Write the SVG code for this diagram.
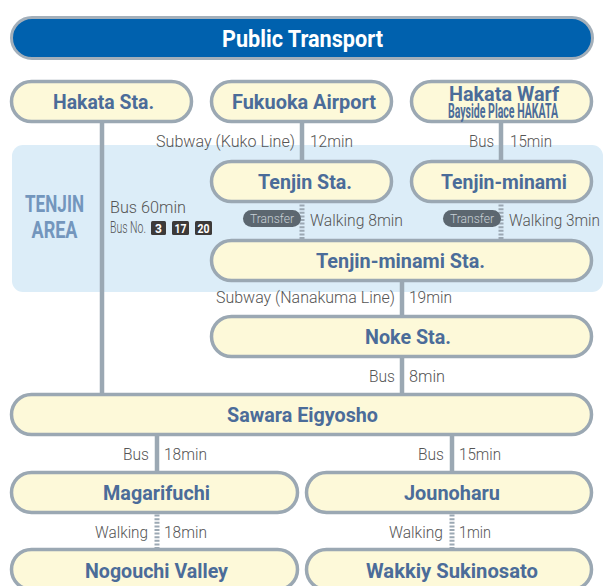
<svg xmlns="http://www.w3.org/2000/svg" width="609" height="586" viewBox="0 0 609 586">
<style>
.node rect{fill:#fdf9d9;stroke:#9ba8b3;stroke-width:3.5}
.nt{font-family:Roboto,"Liberation Sans",sans-serif;font-weight:bold;fill:#4b6c99;text-anchor:middle;font-size:21px}
.lbl{font-family:Roboto,"Liberation Sans",sans-serif;font-weight:300;fill:#555;font-size:17px}
.r{text-anchor:end}
.ln{stroke:#9ba8b3;stroke-width:4.5;fill:none}
.wk{stroke:#9ba8b3;stroke-width:5;stroke-dasharray:2 1.6;fill:none}
.tp{fill:#5c6770}
.tpt{font-family:Roboto,"Liberation Sans",sans-serif;font-weight:300;font-size:12px;fill:#c9d0d6;text-anchor:middle}
.bn rect{fill:#3d3a39}
.bn text{font-family:Roboto,"Liberation Sans",sans-serif;font-weight:bold;font-size:12px;fill:#fff;text-anchor:middle}
</style>
<rect x="12" y="145" width="591" height="147" rx="11" fill="#dcedf8"/>
<g id="header">
<rect x="11.5" y="17.5" width="581" height="41" rx="20.5" fill="#0061ae" stroke="#a3afba" stroke-width="3"/>
<text x="302.5" y="47" font-family="Roboto,Liberation Sans,sans-serif" font-weight="bold" font-size="24" fill="#fff" text-anchor="middle" textLength="161" lengthAdjust="spacingAndGlyphs">Public Transport</text>
</g>
<g id="tenjin-area-label" font-family="Roboto,Liberation Sans,sans-serif" font-weight="bold" font-size="23" fill="#7396bd" text-anchor="middle">
<text x="54.5" y="212" textLength="59" lengthAdjust="spacingAndGlyphs">TENJIN</text>
<text x="54.5" y="238" textLength="46" lengthAdjust="spacingAndGlyphs">AREA</text>
</g>
<g id="connectors">
<line class="ln" x1="102" y1="121" x2="102" y2="396"/>
<line class="ln" x1="302" y1="121" x2="302" y2="162"/>
<line class="ln" x1="501" y1="121" x2="501" y2="162"/>
<line class="wk" x1="302" y1="201" x2="302" y2="241"/>
<line class="wk" x1="501" y1="201" x2="501" y2="241"/>
<line class="ln" x1="402" y1="279" x2="402" y2="317"/>
<line class="ln" x1="402" y1="355" x2="402" y2="395"/>
<line class="ln" x1="157" y1="433" x2="157" y2="474"/>
<line class="ln" x1="452" y1="433" x2="452" y2="474"/>
<line class="wk" x1="157" y1="511" x2="157" y2="550"/>
<line class="wk" x1="452" y1="511" x2="452" y2="550"/>
<text class="lbl r" x="295" y="147" textLength="139" lengthAdjust="spacingAndGlyphs">Subway (Kuko Line)</text>
<text class="lbl" x="310" y="147" textLength="43" lengthAdjust="spacingAndGlyphs">12min</text>
<text class="lbl r" x="494" y="147" textLength="25" lengthAdjust="spacingAndGlyphs">Bus</text>
<text class="lbl" x="510" y="147" textLength="42" lengthAdjust="spacingAndGlyphs">15min</text>
<text class="lbl" x="110" y="213" textLength="76" lengthAdjust="spacingAndGlyphs">Bus 60min</text>
<text class="lbl" x="110" y="233" font-size="11" textLength="36" lengthAdjust="spacingAndGlyphs">Bus No.</text>
<g class="bn"><rect x="151" y="221" width="15" height="14" rx="1.5"/><text x="158.5" y="232.5">3</text></g>
<g class="bn"><rect x="172" y="221" width="17" height="14" rx="1.5"/><text x="180.5" y="232.5" textLength="12" lengthAdjust="spacingAndGlyphs">17</text></g>
<g class="bn"><rect x="195" y="221" width="17" height="14" rx="1.5"/><text x="203.5" y="232.5" textLength="12" lengthAdjust="spacingAndGlyphs">20</text></g>
<rect class="tp" x="243" y="210" width="58" height="17" rx="8.5"/>
<text class="tpt" x="272" y="222.5" textLength="44" lengthAdjust="spacingAndGlyphs">Transfer</text>
<text class="lbl" x="310" y="226" textLength="93" lengthAdjust="spacingAndGlyphs">Walking 8min</text>
<rect class="tp" x="443" y="210" width="58" height="17" rx="8.5"/>
<text class="tpt" x="472" y="222.5" textLength="44" lengthAdjust="spacingAndGlyphs">Transfer</text>
<text class="lbl" x="509" y="226" textLength="91" lengthAdjust="spacingAndGlyphs">Walking 3min</text>
<text class="lbl r" x="395" y="303" textLength="179" lengthAdjust="spacingAndGlyphs">Subway (Nanakuma Line)</text>
<text class="lbl" x="409" y="303" textLength="43" lengthAdjust="spacingAndGlyphs">19min</text>
<text class="lbl r" x="395" y="382" textLength="26" lengthAdjust="spacingAndGlyphs">Bus</text>
<text class="lbl" x="409" y="382" textLength="36" lengthAdjust="spacingAndGlyphs">8min</text>
<text class="lbl r" x="149" y="460" textLength="26" lengthAdjust="spacingAndGlyphs">Bus</text>
<text class="lbl" x="164" y="460" textLength="43" lengthAdjust="spacingAndGlyphs">18min</text>
<text class="lbl r" x="444" y="460" textLength="26" lengthAdjust="spacingAndGlyphs">Bus</text>
<text class="lbl" x="459" y="460" textLength="42" lengthAdjust="spacingAndGlyphs">15min</text>
<text class="lbl r" x="148" y="538" textLength="53" lengthAdjust="spacingAndGlyphs">Walking</text>
<text class="lbl" x="164" y="538" textLength="43" lengthAdjust="spacingAndGlyphs">18min</text>
<text class="lbl r" x="443" y="538" textLength="54" lengthAdjust="spacingAndGlyphs">Walking</text>
<text class="lbl" x="459" y="538" textLength="32" lengthAdjust="spacingAndGlyphs">1min</text>
</g>
<g id="hakata-sta" class="node"><rect x="11.5" y="81.5" width="180" height="40" rx="20"/><text class="nt" x="103.5" y="109" textLength="101" lengthAdjust="spacingAndGlyphs">Hakata Sta.</text></g>
<g id="fukuoka-airport" class="node"><rect x="211.5" y="81.5" width="180" height="40" rx="20"/><text class="nt" x="304" y="109" textLength="144" lengthAdjust="spacingAndGlyphs">Fukuoka Airport</text></g>
<g id="hakata-warf" class="node"><rect x="411.5" y="81.5" width="180" height="40" rx="20"/><text class="nt" x="504" y="101" font-size="18.5" textLength="110" lengthAdjust="spacingAndGlyphs">Hakata Warf</text><text class="nt" x="503" y="117.5" font-size="9" textLength="110" lengthAdjust="spacingAndGlyphs">Bayside Place HAKATA</text></g>
<g id="tenjin-sta" class="node"><rect x="211.5" y="161.5" width="180" height="40" rx="20"/><text class="nt" x="305" y="189" textLength="94" lengthAdjust="spacingAndGlyphs">Tenjin Sta.</text></g>
<g id="tenjin-minami" class="node"><rect x="411.5" y="161.5" width="180" height="40" rx="20"/><text class="nt" x="504" y="189" textLength="126" lengthAdjust="spacingAndGlyphs">Tenjin-minami</text></g>
<g id="tenjin-minami-sta" class="node"><rect x="211.5" y="240.5" width="380" height="40" rx="20"/><text class="nt" x="400.5" y="268" textLength="169" lengthAdjust="spacingAndGlyphs">Tenjin-minami Sta.</text></g>
<g id="noke-sta" class="node"><rect x="211.5" y="316.5" width="380" height="40" rx="20"/><text class="nt" x="408" y="344" textLength="86" lengthAdjust="spacingAndGlyphs">Noke Sta.</text></g>
<g id="sawara-eigyosho" class="node"><rect x="11.5" y="394.5" width="580" height="40" rx="20"/><text class="nt" x="302.5" y="422" textLength="151" lengthAdjust="spacingAndGlyphs">Sawara Eigyosho</text></g>
<g id="magarifuchi" class="node"><rect x="11.5" y="472.5" width="286" height="40" rx="20"/><text class="nt" x="156.5" y="500" textLength="107" lengthAdjust="spacingAndGlyphs">Magarifuchi</text></g>
<g id="jounoharu" class="node"><rect x="306.5" y="472.5" width="285" height="40" rx="20"/><text class="nt" x="452" y="500" textLength="96" lengthAdjust="spacingAndGlyphs">Jounoharu</text></g>
<g id="nogouchi-valley" class="node"><rect x="11.5" y="549.5" width="286" height="40" rx="20"/><text class="nt" x="156.5" y="578" textLength="143" lengthAdjust="spacingAndGlyphs">Nogouchi Valley</text></g>
<g id="wakkiy-sukinosato" class="node"><rect x="306.5" y="549.5" width="285" height="40" rx="20"/><text class="nt" x="452" y="578" textLength="172" lengthAdjust="spacingAndGlyphs">Wakkiy Sukinosato</text></g>
</svg>
